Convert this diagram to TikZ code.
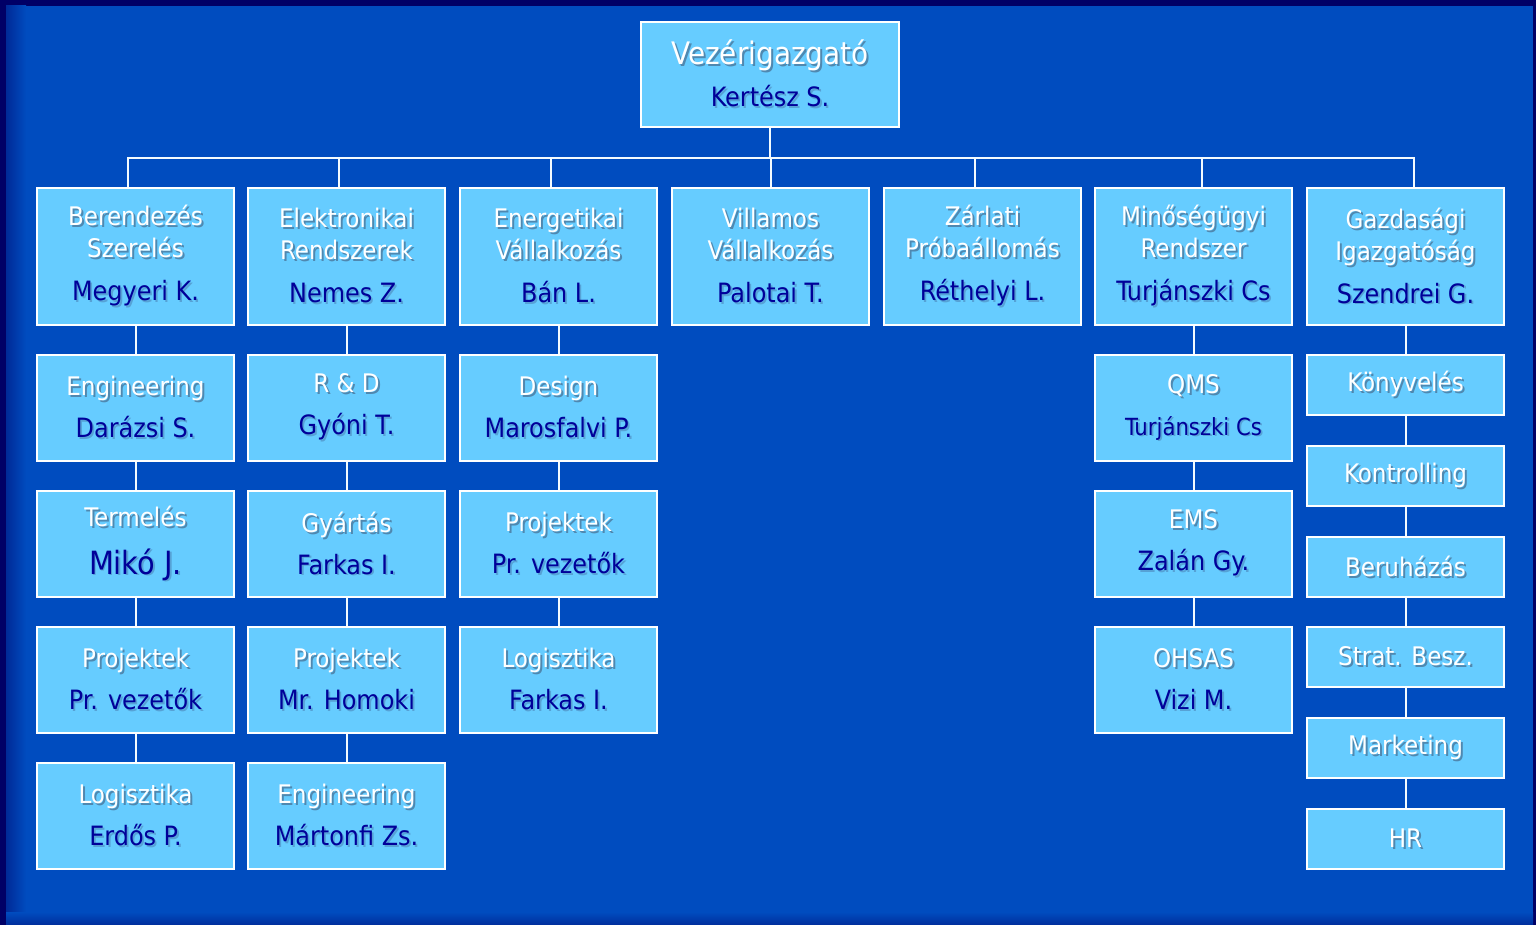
\documentclass[tikz,border=0pt]{standalone}
\usepackage{fontspec}
\setmainfont{DejaVu Sans Condensed}
\definecolor{bgblue}{HTML}{004CBF}
\definecolor{navyedge}{HTML}{000066}
\definecolor{boxblue}{HTML}{66CCFF}
\definecolor{namecol}{HTML}{000099}
\definecolor{titleshadow}{HTML}{4F88B0}
\definecolor{nameshadow}{HTML}{56A2D6}
% shadowed texts: white unit title, dark blue name
\newcommand{\ttl}[1]{\leavevmode\rlap{\kern1pt\raisebox{-1pt}{\textcolor{titleshadow}{#1}}}\textcolor{white}{#1}}
\newcommand{\nm}[1]{{\fontsize{13.3}{16}\selectfont\leavevmode\rlap{\kern0.9pt\raisebox{-0.9pt}{\textcolor{nameshadow}{#1}}}\textcolor{namecol}{#1}}}
\newcommand{\bignm}[1]{{\fontsize{16}{16}\selectfont\leavevmode\rlap{\kern0.9pt\raisebox{-0.9pt}{\textcolor{nameshadow}{#1}}}\textcolor{namecol}{#1}}}
\newcommand{\smallnm}[1]{{\fontsize{11.8}{16}\selectfont\leavevmode\rlap{\kern0.9pt\raisebox{-0.9pt}{\textcolor{nameshadow}{#1}}}\textcolor{namecol}{#1}}}
\tikzset{
  unit/.style={draw=white, line width=1pt, fill=boxblue, minimum width=98.5pt,
    align=center, inner sep=0pt, font=\fontsize{12.8}{16}\selectfont},
  headunit/.style={unit, minimum height=68.5pt},
  subunit/.style={unit, minimum height=53pt},
  smallunit/.style={unit, minimum height=30pt},
  link/.style={draw=white!92!boxblue, line width=1pt}
}
\begin{document}
\begin{tikzpicture}[x=0.5pt, y=-0.5pt]
  % background
  \fill[navyedge] (0,0) rectangle (1536,925);
  \fill[bgblue] (6,6) rectangle (1533,925);
  \shade[left color=navyedge!45!bgblue, right color=bgblue] (6,6) rectangle (26,925);
  \shade[top color=bgblue, bottom color=navyedge!40!bgblue] (6,912) rectangle (1533,925);
  \useasboundingbox (0,0) rectangle (1536,925);

  % top
  \node[unit, minimum width=129pt, minimum height=52.5pt] (ceo) at (770,74.5)
    {{\fontsize{15.5}{18}\selectfont\ttl{Vezérigazgató}}\\[5pt]\nm{Kertész S.}};

  % first row
  \node[headunit] (bd) at (135.5,256.5) {\ttl{Berendezés}\\\ttl{Szerelés}\\[5.5pt]\nm{Megyeri K.}};
  \node[headunit] (el) at (346.5,256.5) {\ttl{Elektronikai}\\\ttl{Rendszerek}\\[5.5pt]\nm{Nemes Z.}};
  \node[headunit] (en) at (558.5,256.5) {\ttl{Energetikai}\\\ttl{Vállalkozás}\\[5.5pt]\nm{Bán L.}};
  \node[headunit] (vill) at (770.5,256.5) {\ttl{Villamos}\\\ttl{Vállalkozás}\\[5.5pt]\nm{Palotai T.}};
  \node[headunit] (zar) at (982.5,256.5) {\ttl{Zárlati}\\\ttl{Próbaállomás}\\[5.5pt]\nm{Réthelyi L.}};
  \node[headunit] (min) at (1193.5,256.5) {\ttl{Minőségügyi}\\\ttl{Rendszer}\\[5.5pt]\nm{Turjánszki Cs}};
  \node[headunit] (gaz) at (1405.5,256.5) {\ttl{Gazdasági}\\\ttl{Igazgatóság}\\[5.5pt]\nm{Szendrei G.}};

  % column 1
  \node[subunit] (eng1) at (135.5,408) {\ttl{Engineering}\\[5pt]\nm{Darázsi S.}};
  \node[subunit] (term) at (135.5,544) {\ttl{Termelés}\\[8pt]\bignm{Mikó J.}};
  \node[subunit] (proj1) at (135.5,680) {\ttl{Projektek}\\[5pt]\nm{Pr. vezetők}};
  \node[subunit] (log1) at (135.5,816) {\ttl{Logisztika}\\[5pt]\nm{Erdős P.}};

  % column 2
  \node[subunit] (rd) at (346.5,408) {\ttl{R \& D}\\[5pt]\nm{Gyóni T.}};
  \node[subunit] (gyar) at (346.5,544) {\ttl{Gyártás}\\[5pt]\nm{Farkas I.}};
  \node[subunit] (proj2) at (346.5,680) {\ttl{Projektek}\\[5pt]\nm{Mr. Homoki}};
  \node[subunit] (eng2) at (346.5,816) {\ttl{Engineering}\\[5pt]\nm{Mártonfi Zs.}};

  % column 3
  \node[subunit] (des) at (558.5,408) {\ttl{Design}\\[5pt]\nm{Marosfalvi P.}};
  \node[subunit] (proj3) at (558.5,544) {\ttl{Projektek}\\[5pt]\nm{Pr. vezetők}};
  \node[subunit] (log3) at (558.5,680) {\ttl{Logisztika}\\[5pt]\nm{Farkas I.}};

  % column 6
  \node[subunit] (qms) at (1193.5,408) {\ttl{QMS}\\[5pt]\smallnm{Turjánszki Cs}};
  \node[subunit] (ems) at (1193.5,544) {\ttl{EMS}\\[5pt]\nm{Zalán Gy.}};
  \node[subunit] (ohsas) at (1193.5,680) {\ttl{OHSAS}\\[5pt]\nm{Vizi M.}};

  % column 7
  \node[smallunit] (kony) at (1405.5,385) {\ttl{Könyvelés}};
  \node[smallunit] (kontr) at (1405.5,476) {\ttl{Kontrolling}};
  \node[smallunit] (beru) at (1405.5,567) {\ttl{Beruházás}};
  \node[smallunit] (strat) at (1405.5,657) {\ttl{Strat. Besz.}};
  \node[smallunit] (mark) at (1405.5,748) {\ttl{Marketing}};
  \node[smallunit] (hr) at (1405.5,839) {\ttl{HR}};

  % connectors
  \coordinate (bus) at (770,158);
  \draw[link] (ceo.south) -- (bus);
  \foreach \n/\s in {bd/-4pt, el/-4pt, en/-4pt, vill/0pt, zar/-4pt, min/4pt, gaz/4pt}
    \draw[link] (bus) -| ([xshift=\s]\n.north);
  \foreach \a/\b in {bd/eng1, eng1/term, term/proj1, proj1/log1,
                     el/rd, rd/gyar, gyar/proj2, proj2/eng2,
                     en/des, des/proj3, proj3/log3,
                     min/qms, qms/ems, ems/ohsas,
                     gaz/kony, kony/kontr, kontr/beru, beru/strat, strat/mark, mark/hr}
    \draw[link] (\a.south) -- (\b.north);
\end{tikzpicture}
\end{document}
